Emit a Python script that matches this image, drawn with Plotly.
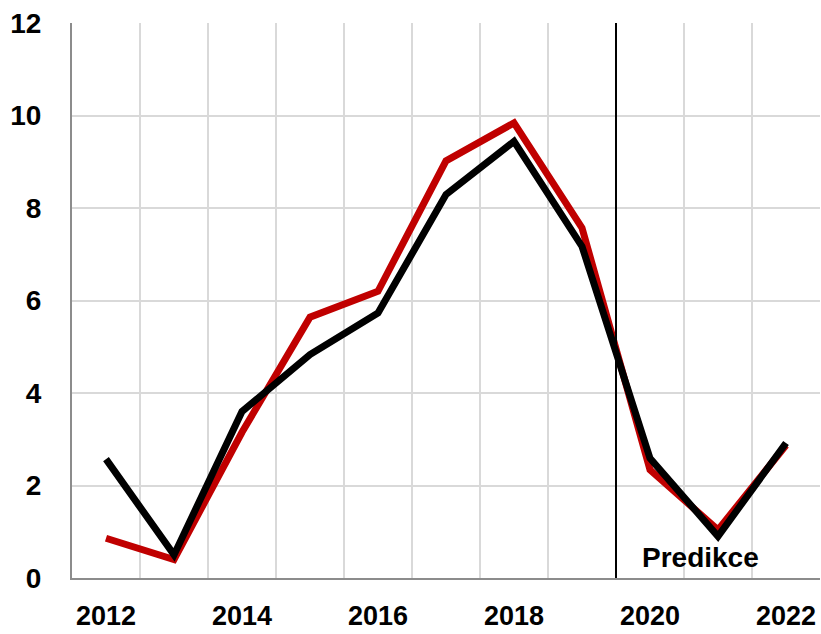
import plotly.graph_objects as go

years = [2012, 2013, 2014, 2015, 2016, 2017, 2018, 2019, 2020, 2021, 2022]
red_values = [0.86, 0.40, 3.15, 5.64, 6.20, 9.02, 9.84, 7.57, 2.34, 1.04, 2.87]
black_values = [2.57, 0.50, 3.60, 4.83, 5.73, 8.29, 9.44, 7.17, 2.59, 0.90, 2.92]
x_tick_labels = ["2012", "2014", "2016", "2018", "2020", "2022"]
y_ticks = [0, 2, 4, 6, 8, 10, 12]
prediction_start = 2019.5
prediction_label = "Predikce"

font = dict(family="Liberation Sans", size=28, color="#000000", weight="bold")

fig = go.Figure()
fig.add_trace(go.Scatter(x=years, y=red_values, mode="lines",
                         line=dict(color="#C00000", width=7), showlegend=False))
fig.add_trace(go.Scatter(x=years, y=black_values, mode="lines",
                         line=dict(color="#000000", width=7), showlegend=False))

fig.add_shape(type="line", xref="x", yref="y", x0=prediction_start, x1=prediction_start,
              y0=0, y1=12, line=dict(color="#000000", width=2), layer="above")
fig.add_annotation(x=2020.74, y=0.44, xref="x", yref="y", text=prediction_label,
                   showarrow=False, font=font)

fig.update_layout(
    width=821, height=634,
    margin=dict(l=72, r=1, t=23, b=56),
    paper_bgcolor="white", plot_bgcolor="white",
    font=font,
    xaxis=dict(range=[2011.5, 2022.5], tickvals=[int(t) for t in x_tick_labels],
               ticktext=x_tick_labels, showgrid=False, zeroline=False,
               showline=True, linecolor="#8c8c8c", linewidth=2,
               ticks="", ticklabelstandoff=13, automargin=False,
               tickfont=dict(size=27),
               minor=dict(tick0=2011.5, dtick=1, showgrid=True,
                          gridcolor="#d9d9d9", gridwidth=2, ticks="")),
    yaxis=dict(range=[0, 12], tickvals=y_ticks, showgrid=True, gridcolor="#d9d9d9",
               gridwidth=2, zeroline=False, showline=True, linecolor="#8c8c8c",
               linewidth=2, ticks="", ticklabelstandoff=23, automargin=False),
)

fig.write_html("out.html", config={"displayModeBar": False},
               post_script="document.body.style.margin='0';")
